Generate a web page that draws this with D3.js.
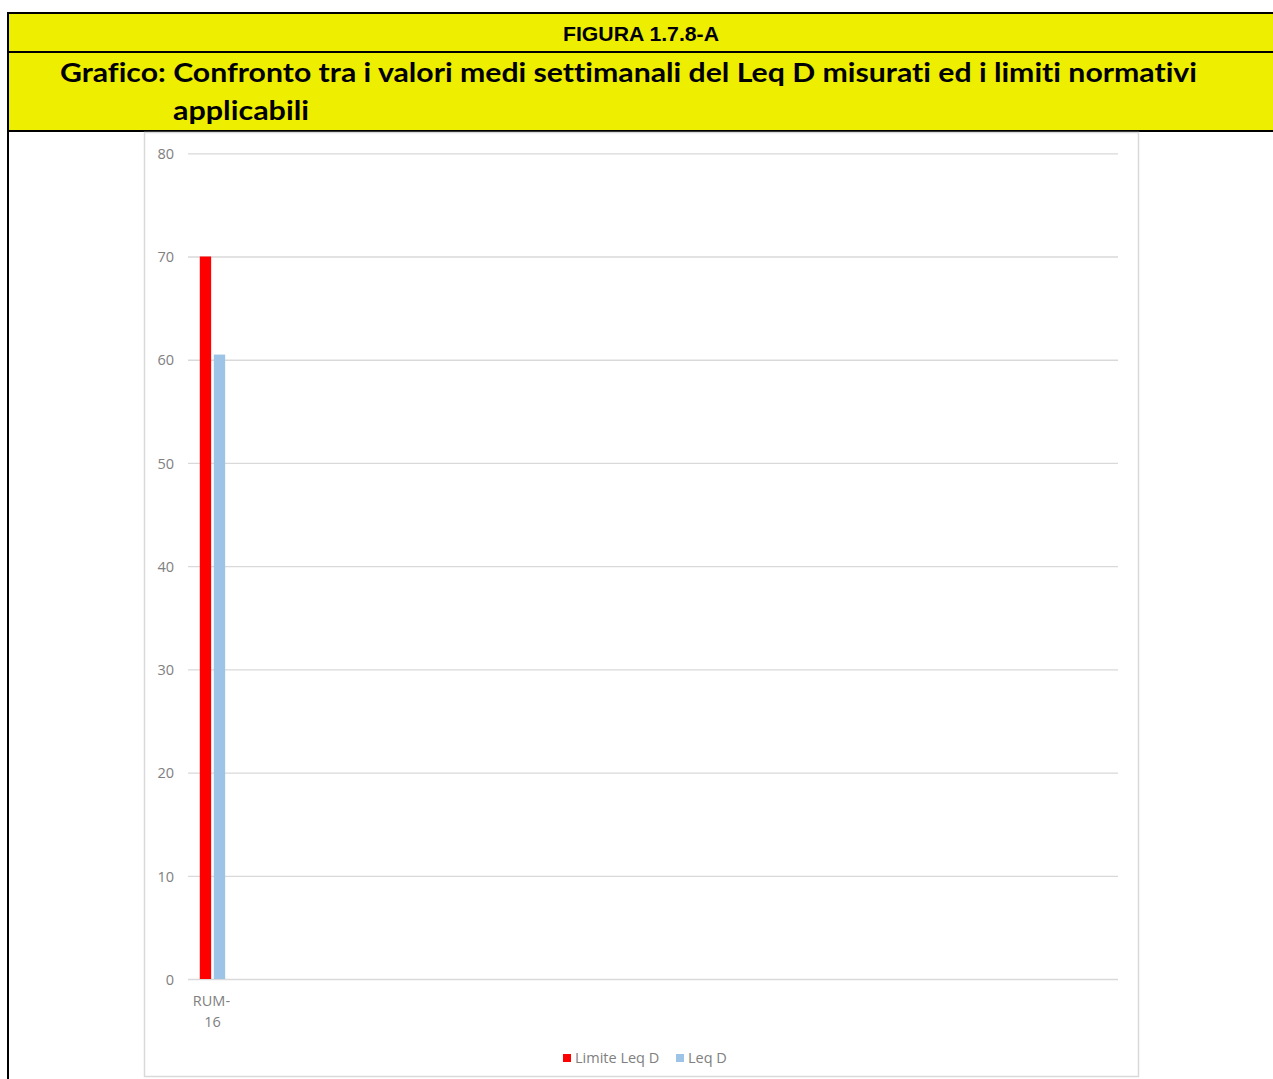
<!DOCTYPE html>
<html>
<head>
<meta charset="utf-8">
<script src="https://cdn.jsdelivr.net/npm/d3@7"></script>
<style>
  html, body { margin: 0; padding: 0; background: #fff; }
  svg { display: block; }
  text { font-variant-ligatures: none; font-feature-settings: "liga" 0, "clig" 0; }
</style>
</head>
<body>
<svg id="chart" width="1273" height="1079"></svg>
<script>
// ---- data ----
const figureLabel = "FIGURA 1.7.8-A";
const titleLine1 = "Grafico: Confronto tra i valori medi settimanali del Leq D misurati ed i limiti normativi";
const titleLine2 = "applicabili";
const categories = ["RUM-16"];
const seriesNames = ["Limite Leq D", "Leq D"];
const limiteLeqD = [70];
const leqD = [60.5];
const yTicks = [0, 10, 20, 30, 40, 50, 60, 70, 80];

// ---- layout ----
const W = 1273, H = 1079;
const yellow = "#EEEE00";
const labelGray = "#808080";
const svg = d3.select("#chart");

// header table
svg.append("rect").attr("x", 8).attr("y", 13).attr("width", W - 8).attr("height", 118).attr("fill", yellow);
svg.append("rect").attr("x", 7).attr("y", 12).attr("width", W - 7).attr("height", 2).attr("fill", "#000");
svg.append("rect").attr("x", 7).attr("y", 51).attr("width", W - 7).attr("height", 2).attr("fill", "#000");
svg.append("rect").attr("x", 7).attr("y", 130).attr("width", W - 7).attr("height", 2).attr("fill", "#000");
svg.append("rect").attr("x", 7).attr("y", 12).attr("width", 2).attr("height", H - 12).attr("fill", "#000");

svg.append("text").attr("x", 641).attr("y", 41)
  .attr("text-anchor", "middle")
  .attr("font-family", "Liberation Sans, Arial, sans-serif")
  .attr("font-weight", "bold").attr("font-size", 20)
  .attr("textLength", 156).attr("lengthAdjust", "spacingAndGlyphs")
  .text(figureLabel);

svg.append("text").attr("x", 60).attr("y", 82)
  .attr("font-family", "Lato, sans-serif")
  .attr("font-weight", "bold").attr("font-size", 26)
  .attr("textLength", 1137).attr("lengthAdjust", "spacingAndGlyphs")
  .text(titleLine1);
svg.append("text").attr("x", 173).attr("y", 120)
  .attr("font-family", "Lato, sans-serif")
  .attr("font-weight", "bold").attr("font-size", 26)
  .attr("textLength", 136).attr("lengthAdjust", "spacingAndGlyphs")
  .text(titleLine2);

// chart frame
svg.append("rect").attr("x", 144.5).attr("y", 132.5).attr("width", 994).attr("height", 944)
  .attr("fill", "#fff").attr("stroke", "#d9d9d9").attr("stroke-width", 1.5);

const plotLeft = 188, plotRight = 1118, plotTop = 153.3, plotBottom = 979;
const slotCount = 19;

const y = d3.scaleLinear().domain([0, 80]).range([plotBottom, plotTop]);
const x0 = d3.scaleBand().domain(d3.range(slotCount)).range([plotLeft, plotRight]).padding(0);
const x1 = d3.scaleBand().domain(seriesNames).range([0, x0.bandwidth()])
  .paddingInner(0.19).paddingOuter(0.84);
const color = d3.scaleOrdinal().domain(seriesNames).range(["#FF0000", "#9DC3E6"]);

// gridlines
const yAxis = d3.axisLeft(y).tickValues(yTicks).tickSize(-(plotRight - plotLeft)).tickPadding(14);
const gAxis = svg.append("g").attr("transform", `translate(${plotLeft},0)`).call(yAxis);
gAxis.select(".domain").remove();
gAxis.selectAll(".tick line").attr("stroke", "#d9d9d9").attr("stroke-width", 1.3);
gAxis.selectAll(".tick text")
  .attr("font-family", "Open Sans, sans-serif").attr("font-size", 14.5)
  .attr("fill", labelGray).attr("dy", "0.36em");

// bars
const rows = categories.map((c, i) => ({ i, values: [limiteLeqD[i], leqD[i]] }));
const groups = svg.append("g").selectAll("g").data(rows).join("g")
  .attr("transform", d => `translate(${x0(d.i)},0)`);
groups.selectAll("rect")
  .data(d => seriesNames.map((s, k) => ({ s, v: d.values[k] })))
  .join("rect")
  .attr("x", d => x1(d.s))
  .attr("width", x1.bandwidth())
  .attr("y", d => y(d.v))
  .attr("height", d => y(0) - y(d.v))
  .attr("fill", d => color(d.s));

// category labels (wrapped)
categories.forEach((c, i) => {
  const cx = x0(i) + x0.bandwidth() / 2;
  const parts = c.split("-");
  const t = svg.append("text").attr("text-anchor", "middle")
    .attr("font-family", "Open Sans, sans-serif").attr("font-size", 14.5).attr("fill", labelGray);
  t.append("tspan").attr("x", cx - 1).attr("y", 1006).text(parts[0] + "-");
  t.append("tspan").attr("x", cx).attr("y", 1027).text(parts[1]);
});

// legend
const legendItems = [{ name: seriesNames[0], x: 563 }, { name: seriesNames[1], x: 676 }];
const lg = svg.append("g");
legendItems.forEach(it => {
  lg.append("rect").attr("x", it.x).attr("y", 1054).attr("width", 8).attr("height", 8).attr("fill", color(it.name));
  lg.append("text").attr("x", it.x + 12).attr("y", 1063)
    .attr("font-family", "Open Sans, sans-serif").attr("font-size", 14.5).attr("fill", labelGray)
    .text(it.name);
});
</script>
</body>
</html>
